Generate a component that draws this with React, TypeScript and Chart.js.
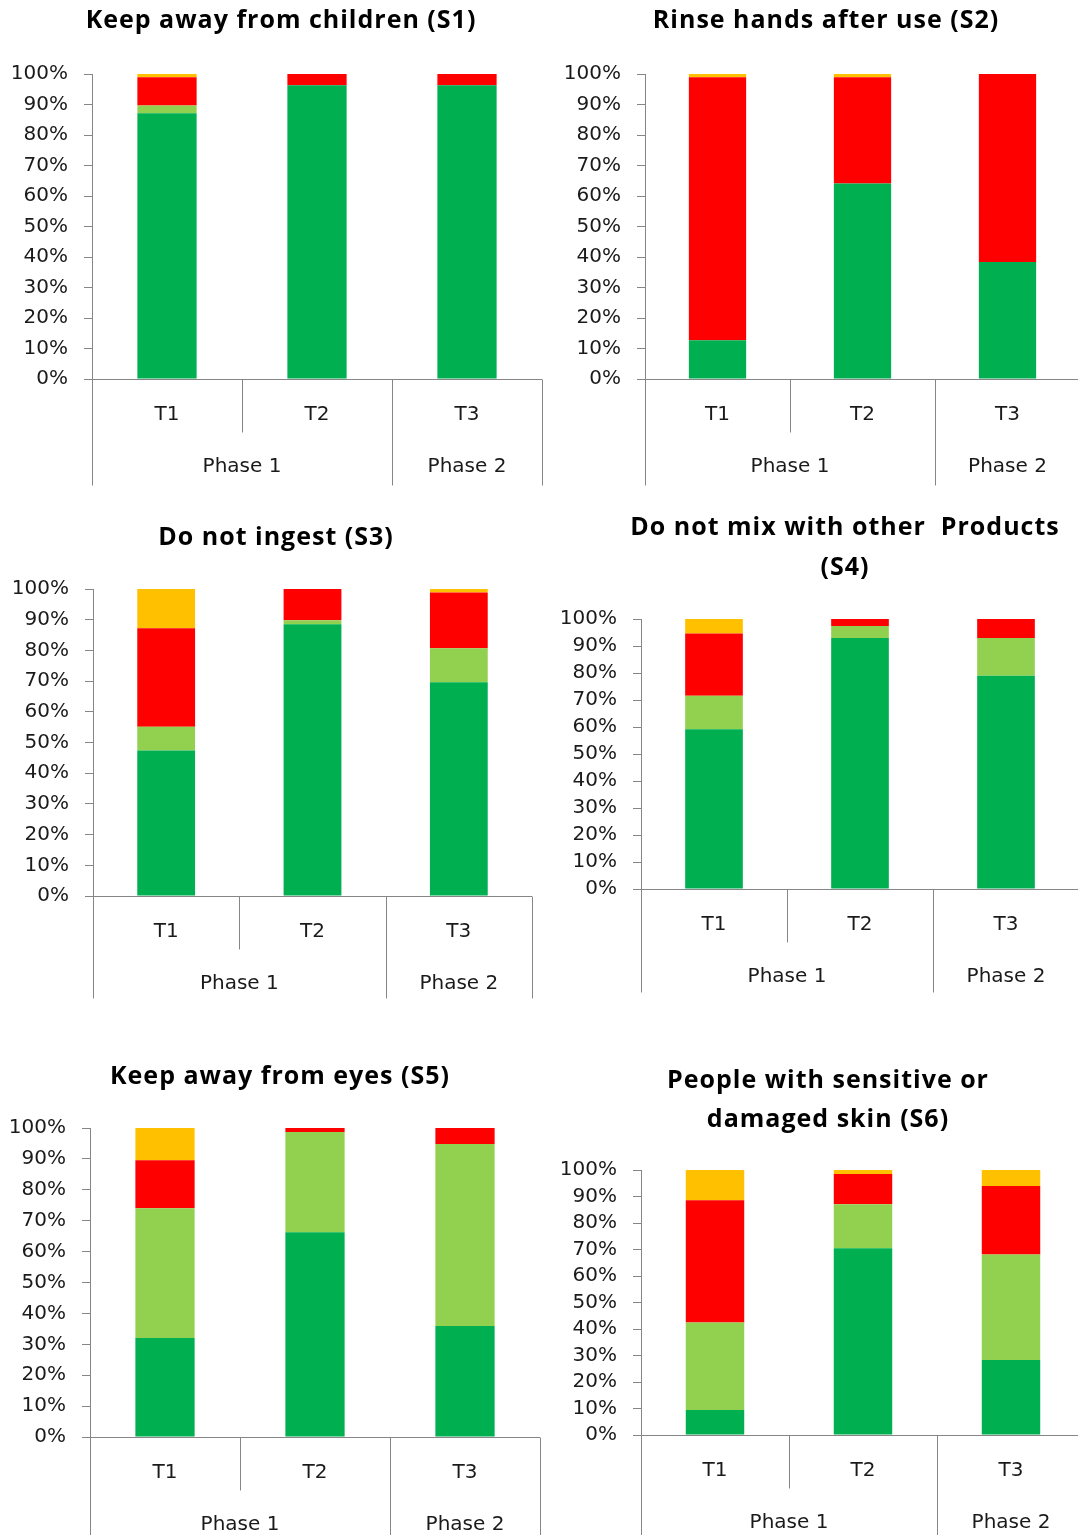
import React, { useEffect, useRef } from "react";
import { Chart, registerables } from "chart.js";

Chart.register(...registerables);

// ---------- data ----------
const categories = ["T1", "T2", "T3"];
const phaseLabels = ["Phase 1", "Phase 2"];
const phaseSpans = [2, 1];
const seriesNames = ["Correct", "Partly correct", "Incorrect", "Don't know"];
const seriesColors = ["#00B050", "#92D050", "#FF0000", "#FFC000"];
const yTicks = [0, 10, 20, 30, 40, 50, 60, 70, 80, 90, 100];

// S1 Keep away from children
const s1Correct = [87.1, 96.3, 96.3];
const s1Partly = [2.6, 0, 0];
const s1Incorrect = [9.2, 3.7, 3.7];
const s1DontKnow = [1.1, 0, 0];
// S2 Rinse hands after use
const s2Correct = [12.7, 64.1, 38.4];
const s2Partly = [0, 0, 0];
const s2Incorrect = [86.2, 34.8, 61.6];
const s2DontKnow = [1.1, 1.1, 0];
// S3 Do not ingest
const s3Correct = [47.4, 88.5, 69.6];
const s3Partly = [7.7, 1.3, 11.1];
const s3Incorrect = [32.1, 10.2, 18.2];
const s3DontKnow = [12.8, 0, 1.1];
// S4 Do not mix with other products
const s4Correct = [59.2, 93.0, 79.0];
const s4Partly = [12.4, 4.4, 14.0];
const s4Incorrect = [23.0, 2.6, 7.0];
const s4DontKnow = [5.4, 0, 0];
// S5 Keep away from eyes
const s5Correct = [32.0, 66.3, 35.9];
const s5Partly = [42.0, 32.4, 58.9];
const s5Incorrect = [15.6, 1.3, 5.2];
const s5DontKnow = [10.4, 0, 0];
// S6 People with sensitive or damaged skin
const s6Correct = [9.4, 70.5, 28.3];
const s6Partly = [33.1, 16.6, 39.8];
const s6Incorrect = [46.1, 11.4, 25.9];
const s6DontKnow = [11.4, 1.5, 6.0];

const AXIS_COLOR = "#868686";
const TEXT_COLOR = "#1a1a1a";
const TICK_FONT = "'DejaVu Sans', Verdana, sans-serif";
const TITLE_FONT = "'Open Sans', sans-serif";

type PanelCfg = {
  title: string[];
  series: number[][];
  box: { x: number; y: number; w: number; h: number };
  plot: { l: number; r: number; t: number; b: number };
  titlePos: { x: number; y: number; gap: number };
  ext: number;
};

const panels: PanelCfg[] = [
  {
    title: ["Keep away from children (S1)"],
    series: [s1Correct, s1Partly, s1Incorrect, s1DontKnow],
    box: { x: 0, y: 0, w: 560, h: 500 },
    plot: { l: 92, r: 542, t: 74, b: 379 },
    titlePos: { x: 281, y: 21, gap: 40 },
    ext: 106,
  },
  {
    title: ["Rinse hands after use (S2)"],
    series: [s2Correct, s2Partly, s2Incorrect, s2DontKnow],
    box: { x: 560, y: 0, w: 530, h: 500 },
    plot: { l: 645, r: 1080, t: 74, b: 379 },
    titlePos: { x: 826, y: 21, gap: 40 },
    ext: 106,
  },
  {
    title: ["Do not ingest (S3)"],
    series: [s3Correct, s3Partly, s3Incorrect, s3DontKnow],
    box: { x: 0, y: 500, w: 560, h: 510 },
    plot: { l: 93, r: 532, t: 589, b: 896 },
    titlePos: { x: 276, y: 538, gap: 40 },
    ext: 102,
  },
  {
    title: ["Do not mix with other  Products", "(S4)"],
    series: [s4Correct, s4Partly, s4Incorrect, s4DontKnow],
    box: { x: 560, y: 500, w: 530, h: 510 },
    plot: { l: 641, r: 1079, t: 619, b: 889 },
    titlePos: { x: 845, y: 528, gap: 40 },
    ext: 103,
  },
  {
    title: ["Keep away from eyes (S5)"],
    series: [s5Correct, s5Partly, s5Incorrect, s5DontKnow],
    box: { x: 0, y: 1030, w: 560, h: 505 },
    plot: { l: 90, r: 540, t: 1128, b: 1437 },
    titlePos: { x: 280, y: 1077, gap: 40 },
    ext: 110,
  },
  {
    title: ["People with sensitive or", "damaged skin (S6)"],
    series: [s6Correct, s6Partly, s6Incorrect, s6DontKnow],
    box: { x: 560, y: 1030, w: 530, h: 505 },
    plot: { l: 641, r: 1085, t: 1170, b: 1435 },
    titlePos: { x: 828, y: 1081, gap: 39 },
    ext: 110,
  },
];

const decorPlugin = {
  id: "panelDecor",
  afterDraw(chart: any, _args: any, opts: any) {
    const ctx = chart.ctx as CanvasRenderingContext2D;
    const area = chart.chartArea;
    const xs = chart.scales.x;
    const n = categories.length;
    const w = xs.getPixelForValue(1) - xs.getPixelForValue(0);
    const bottom = Math.round(area.bottom) + 0.5;
    ctx.save();
    // title
    ctx.fillStyle = "#000";
    ctx.font = `bold 25px ${TITLE_FONT}`;
    (ctx as any).letterSpacing = "1px";
    ctx.textAlign = "center";
    ctx.textBaseline = "middle";
    (opts.title as string[]).forEach((line, i) => {
      ctx.fillText(line, opts.tx, opts.ty + i * opts.gap);
    });
    (ctx as any).letterSpacing = "0px";
    // axis lines
    ctx.strokeStyle = AXIS_COLOR;
    ctx.lineWidth = 1;
    ctx.beginPath();
    ctx.moveTo(area.left, bottom);
    ctx.lineTo(area.right, bottom);
    ctx.stroke();
    // boundaries
    const phaseBounds = new Set<number>();
    let acc = 0;
    phaseSpans.forEach((s) => {
      acc += s;
      phaseBounds.add(acc);
    });
    phaseBounds.add(0);
    for (let i = 0; i <= n; i++) {
      const x = Math.round(xs.getPixelForValue(0) - w / 2 + i * w) + 0.5;
      const len = phaseBounds.has(i) ? opts.ext : 53;
      ctx.beginPath();
      ctx.moveTo(x, bottom);
      ctx.lineTo(x, bottom + len);
      ctx.stroke();
    }
    // labels
    ctx.fillStyle = TEXT_COLOR;
    ctx.font = `20px ${TICK_FONT}`;
    categories.forEach((c, i) => {
      ctx.fillText(c, xs.getPixelForValue(i), area.bottom + 36);
    });
    let start = 0;
    phaseLabels.forEach((p, gi) => {
      const span = phaseSpans[gi];
      const cx = xs.getPixelForValue(0) - w / 2 + (start + span / 2) * w;
      ctx.fillText(p, cx, area.bottom + 88);
      start += span;
    });
    ctx.restore();
  },
};

function Panel({ cfg }: { cfg: PanelCfg }) {
  const ref = useRef<HTMLCanvasElement | null>(null);
  useEffect(() => {
    if (!ref.current) return;
    const { box, plot } = cfg;
    const yW = plot.l - box.x;
    const chart = new Chart(ref.current, {
      type: "bar",
      data: {
        labels: categories,
        datasets: cfg.series.map((vals, i) => ({
          label: seriesNames[i],
          data: vals,
          backgroundColor: seriesColors[i],
          borderWidth: 0,
          categoryPercentage: 1,
          barPercentage: 0.395,
        })),
      },
      options: {
        animation: false,
        responsive: false,
        layout: {
          padding: {
            left: 0,
            top: plot.t - box.y,
            right: box.x + box.w - plot.r,
            bottom: box.y + box.h - plot.b,
          },
        },
        plugins: {
          legend: { display: false },
          tooltip: { enabled: false },
          title: { display: false },
          panelDecor: {
            title: cfg.title,
            tx: cfg.titlePos.x - box.x,
            ty: cfg.titlePos.y - box.y,
            gap: cfg.titlePos.gap,
            ext: cfg.ext,
          },
        } as any,
        scales: {
          x: {
            stacked: true,
            display: false,
          },
          y: {
            stacked: true,
            min: 0,
            max: 100,
            afterFit: (scale: any) => {
              scale.width = yW;
            },
            afterBuildTicks: (scale: any) => {
              scale.ticks = yTicks.map((v) => ({ value: v }));
            },
            ticks: {
              autoSkip: false,
              padding: 16,
              color: TEXT_COLOR,
              font: { family: TICK_FONT, size: 20 },
              callback: (v: any) => `${v}%`,
            },
            grid: {
              drawOnChartArea: false,
              drawTicks: true,
              tickLength: 8,
              color: AXIS_COLOR,
            },
            border: { display: true, color: AXIS_COLOR },
          },
        },
      },
      plugins: [decorPlugin],
    });
    return () => chart.destroy();
  }, [cfg]);
  return (
    <canvas
      ref={ref}
      width={cfg.box.w}
      height={cfg.box.h}
      style={{ position: "absolute", left: cfg.box.x, top: cfg.box.y, width: cfg.box.w, height: cfg.box.h }}
    />
  );
}

export default function App() {
  useEffect(() => {
    document.body.style.margin = "0";
  }, []);
  return (
    <div
      style={{
        position: "relative",
        width: 1078,
        height: 1535,
        overflow: "hidden",
        background: "#fff",
      }}
    >
      {panels.map((p, i) => (
        <Panel key={i} cfg={p} />
      ))}
    </div>
  );
}
